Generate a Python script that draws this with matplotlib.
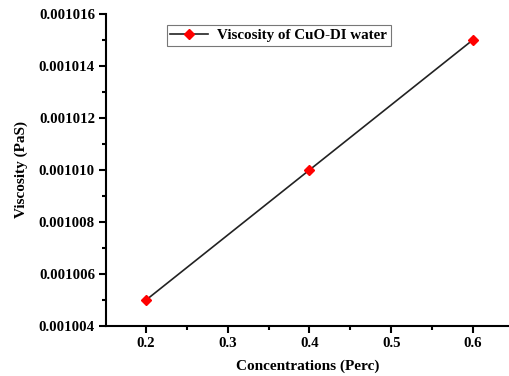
import numpy as np
import matplotlib
matplotlib.use("Agg")
import matplotlib.pyplot as plt
from matplotlib.ticker import FormatStrFormatter, MultipleLocator

conc = [0.2, 0.4, 0.6]
viscosity = [0.001005, 0.001010, 0.001015]
series_label = 'Viscosity of CuO-DI water'

plt.rcParams['font.family'] = ['Liberation Serif', 'DejaVu Serif']
plt.rcParams['font.weight'] = 'bold'

fig = plt.figure(figsize=(5.1, 3.76), dpi=100)
ax = fig.add_axes([0.208, 0.133, 0.792, 0.83])

ax.plot(conc, viscosity, color='#222222', lw=1.2, marker='D', ms=5,
        mfc='red', mec='red', label=series_label)

ax.set_xlim(0.151, 0.6455)
ax.set_ylim(0.001004, 0.001016)
ax.xaxis.set_major_locator(MultipleLocator(0.1))
ax.xaxis.set_minor_locator(MultipleLocator(0.05))
ax.yaxis.set_major_locator(MultipleLocator(0.000002))
ax.yaxis.set_minor_locator(MultipleLocator(0.000001))
ax.xaxis.set_major_formatter(FormatStrFormatter('%.1f'))
ax.yaxis.set_major_formatter(FormatStrFormatter('%.6f'))

for side in ['top', 'right']:
    ax.spines[side].set_visible(False)
for side in ['left', 'bottom']:
    ax.spines[side].set_linewidth(1.5)
ax.tick_params(which='major', direction='out', length=5, width=1.5, labelsize=10.7, pad=3)
ax.tick_params(which='minor', direction='out', length=3, width=1.5)

ax.set_xlabel('Concentrations (Perc)', fontsize=11, fontweight='bold', labelpad=7)
ax.set_ylabel('Viscosity (PaS)', fontsize=11, fontweight='bold', labelpad=8)

leg = ax.legend(loc='upper left', bbox_to_anchor=(0.15, 0.965), fontsize=10.8,
                frameon=True, fancybox=False, edgecolor='#555555',
                handlelength=2.5, handletextpad=0.6, borderpad=0.25, borderaxespad=0)
leg.get_frame().set_linewidth(0.8)

plt.savefig('out.png', dpi=100)
